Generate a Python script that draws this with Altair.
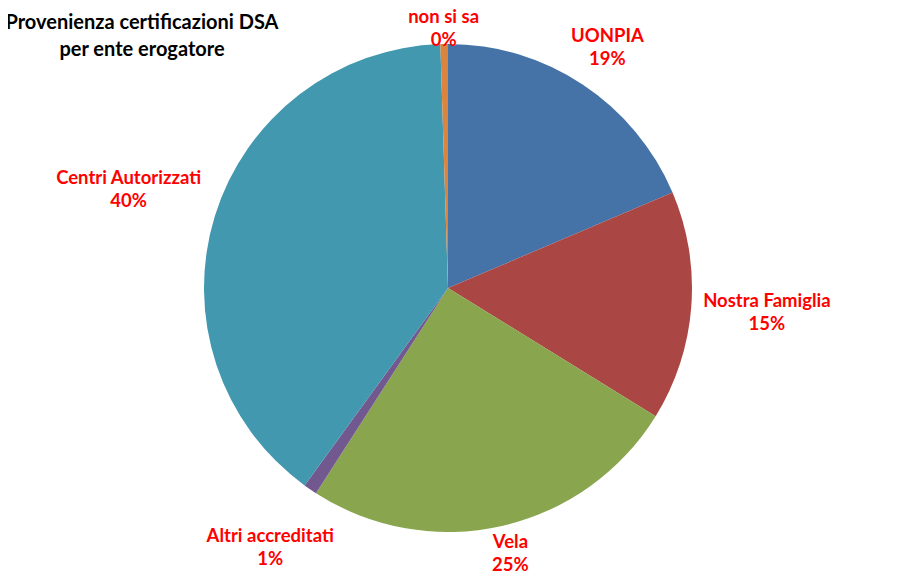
import math
import altair as alt
import pandas as pd

categories = ["UONPIA", "Nostra Famiglia", "Vela", "Altri accreditati", "Centri Autorizzati", "non si sa"]
shares = [18.6, 15.2, 25.3, 0.9, 39.5, 0.5]
colors = ["#4572A7", "#AA4643", "#89A54E", "#71588F", "#4198AF", "#DB843D"]
title_lines = ["Provenienza certificazioni DSA", "per ente erogatore"]

FONT = "Lato"
LABEL_SIZE = 18.5
LINE_H = 23
W, H = 881, 565
R = 244
CX, CY = 440, 280
CHAR_W = 8.3
GAP = 12

total = sum(shares)
rows = []
cum = 0.0
for i, (c, v) in enumerate(zip(categories, shares)):
    mid = (cum + v / 2) / total * 2 * math.pi
    cum += v
    hw = max(len(c), 4) * CHAR_W / 2
    hh = LINE_H
    s, co = math.sin(mid), -math.cos(mid)
    dist = R + GAP + hw * abs(s) + hh * abs(co)
    lx = CX + dist * s
    ly = CY + dist * co
    ly = min(max(ly, 20), H - 20)
    pct = round(v / total * 100)
    rows.append({"cat": c, "val": v, "idx": i, "lx": lx, "ly": ly - LINE_H / 2,
                 "label": f"{c}\n{pct}%"})
df = pd.DataFrame(rows)

pie = alt.Chart(df).mark_arc(outerRadius=R, stroke=None).encode(
    theta=alt.Theta("val:Q", stack=True),
    order=alt.Order("idx:Q"),
    x=alt.value(CX), y=alt.value(CY),
    color=alt.Color("cat:N", scale=alt.Scale(domain=categories, range=colors), legend=None),
)

labels = alt.Chart(df).mark_text(
    font=FONT, fontSize=LABEL_SIZE, fontWeight="bold", color="#FF0000",
    lineBreak="\n", lineHeight=LINE_H, align="center", baseline="middle",
).encode(
    x=alt.X("lx:Q", scale=None, axis=None),
    y=alt.Y("ly:Q", scale=None, axis=None),
    text="label:N",
)

tdf = pd.DataFrame({"t": ["\n".join(title_lines)]})
title = alt.Chart(tdf).mark_text(
    font=FONT, fontSize=20, fontWeight="bold", color="#000000",
    lineBreak="\n", lineHeight=27, align="center", baseline="top",
).encode(x=alt.value(134), y=alt.value(5), text="t:N")

chart = alt.layer(pie, labels, title).properties(
    width=W, height=H, autosize="none", padding=0
).configure_view(stroke=None)

chart.save("out.html", embed_options={"renderer": "svg", "actions": False})
